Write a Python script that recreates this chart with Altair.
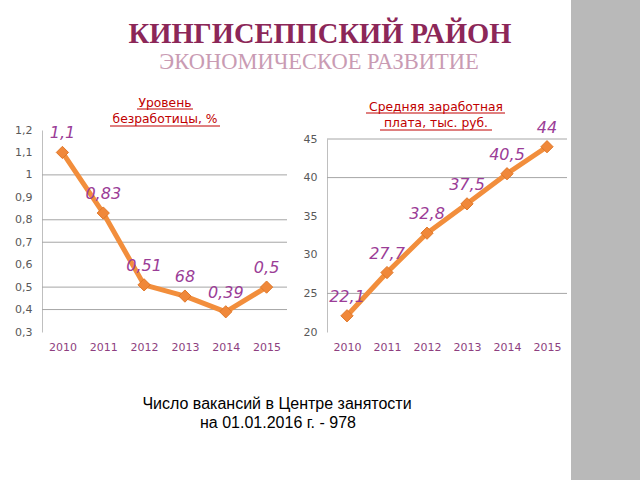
import altair as alt
import pandas as pd

years = ["2010", "2011", "2012", "2013", "2014", "2015"]
unemp = [1.1, 0.83, 0.51, 0.46, 0.39, 0.5]
unemp_labels = ["1,1", "0,83", "0,51", "68", "0,39", "0,5"]
salary = [22.1, 27.7, 32.8, 36.6, 40.5, 44.0]
salary_labels = ["22,1", "27,7", "32,8", "37,5", "40,5", "44"]
unemp_ticks = [0.3, 0.4, 0.5, 0.6, 0.7, 0.8, 0.9, 1.0, 1.1, 1.2]
unemp_grid = [0.4, 0.5, 0.7, 0.8, 1.0]
salary_ticks = [20, 25, 30, 35, 40, 45]
salary_grid = [25, 40, 45]

ORANGE = "#f28e3c"
PURPLE = "#9b3d97"
YEARCOL = "#8e3f80"
GRAY = "#595959"
FONT = "DejaVu Sans"

df_u = pd.DataFrame({"year": years, "value": unemp, "label": unemp_labels})
df_s = pd.DataFrame({"year": years, "value": salary, "label": salary_labels})
df_ug = pd.DataFrame({"v": unemp_grid})
df_sg = pd.DataFrame({"v": salary_grid})


def panel(df, dfg, x0, x1, y0, y1, dom, ticks, ylab_pad):
    xs = alt.Scale(type="point", padding=0.5, range=[x0, x1])
    ys = alt.Scale(domain=dom, range=[y0, y1], nice=False, zero=False)
    xax = alt.Axis(orient="bottom", offset=-142, domain=False, ticks=False,
                   labelFont=FONT, labelFontSize=11, labelColor=YEARCOL,
                   labelPadding=3, title=None, grid=False, labelAngle=0)
    yax = alt.Axis(orient="left", offset=-x0, values=ticks, ticks=False,
                   domain=True, domainColor="#bfbfbf", domainWidth=1,
                   labelFont=FONT, labelFontSize=11, labelColor=GRAY,
                   labelPadding=ylab_pad, title=None, grid=False,
                   labelExpr="replace(format(datum.value, '.2~f'), '.', ',')")
    grid = alt.Chart(dfg).mark_rule(color="#a6a6a6", strokeWidth=1).encode(
        y=alt.Y("v:Q", scale=ys, axis=yax),
        x=alt.value(x0), x2=alt.value(x1),
    )
    base = alt.Chart(df).encode(
        x=alt.X("year:O", scale=xs, axis=xax, sort=years),
        y=alt.Y("value:Q", scale=ys, axis=yax),
    )
    line = base.mark_line(color=ORANGE, strokeWidth=5, strokeJoin="round")
    pts = base.mark_point(shape="diamond", filled=True, size=150,
                          color="#f0883a", stroke="#e0782a", strokeWidth=1,
                          opacity=1)
    txt = base.mark_text(dy=-19, font=FONT, fontSize=16, fontStyle="italic",
                         color=PURPLE).encode(text="label:N")
    return alt.layer(grid, line, pts, txt)


left = panel(df_u, df_ug, 42, 287, 332, 130, [0.3, 1.2], unemp_ticks, 10)
right = panel(df_s, df_sg, 327, 567, 332, 139, [20, 45], salary_ticks, 10)

dummy = pd.DataFrame({"a": [0]})


def txt(s, x, y, size, color, font=FONT, weight="normal", baseline="middle"):
    return alt.Chart(dummy).mark_text(
        text=s, font=font, fontSize=size, color=color, fontWeight=weight,
        align="center", baseline=baseline
    ).encode(x=alt.value(x), y=alt.value(y))


def uline(xa, xb, y):
    return alt.Chart(dummy).mark_rule(color="#c00000", strokeWidth=1).encode(
        x=alt.value(xa), x2=alt.value(xb), y=alt.value(y))


strip = alt.Chart(dummy).mark_rect(color="#b9b9b9").encode(
    x=alt.value(571), x2=alt.value(640), y=alt.value(0), y2=alt.value(480))

decor = [
    strip,
    txt("КИНГИСЕППСКИЙ РАЙОН", 320, 34, 28.5, "#8c2758", "Liberation Serif", "bold"),
    txt("ЭКОНОМИЧЕСКОЕ РАЗВИТИЕ", 319, 62, 22.5, "#c99bb3", "Liberation Serif"),
    txt("Уровень", 165, 107, 12.3, "#c00000", baseline="alphabetic"),
    txt("безработицы, %", 165, 123, 12.3, "#c00000", baseline="alphabetic"),
    uline(137, 193, 109), uline(110, 220, 126),
    txt("Средняя заработная", 436, 111, 12.3, "#c00000", baseline="alphabetic"),
    txt("плата, тыс. руб.", 436, 127, 12.3, "#c00000", baseline="alphabetic"),
    uline(366, 505, 113), uline(380, 492, 130),
    txt("Число вакансий в Центре занятости", 277, 404, 16, "#000000", "Liberation Sans"),
    txt("на 01.01.2016 г. - 978", 278, 423, 16, "#000000", "Liberation Sans"),
]

chart = alt.layer(left, right, *decor).resolve_scale(
    x="independent", y="independent"
).properties(
    width=640, height=480, autosize=alt.AutoSizeParams(type="none"),
    padding=0, background="white"
).configure_view(stroke=None)

chart.save("out.html", embed_options={"renderer": "svg", "actions": False})
